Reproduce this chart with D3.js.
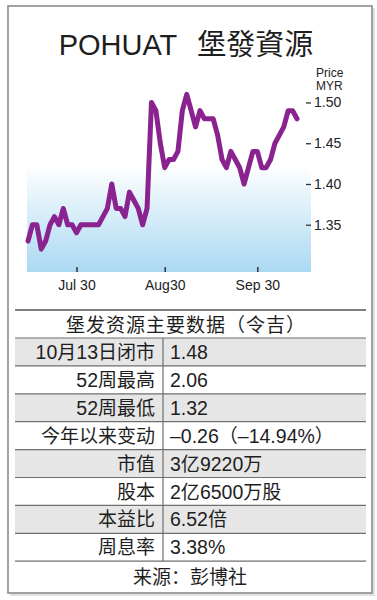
<!DOCTYPE html>
<html>
<head>
<meta charset="utf-8">
<script src="https://cdn.jsdelivr.net/npm/d3@7"></script>
<style>
  body { margin: 0; background: #fff; }
  svg text { font-family: "Liberation Sans", Arial, "Noto Sans CJK SC", sans-serif; }
</style>
</head>
<body>
<div id="chart"></div>
<script>
// trading days, Jul 14 - Oct 13
var dates = [
  "07-14","07-15","07-16","07-19","07-21","07-22","07-23","07-26","07-27","07-28","07-29","07-30",
  "08-02","08-03","08-04","08-05","08-06","08-09","08-11","08-12","08-13","08-16","08-17","08-18",
  "08-19","08-20","08-23","08-24","08-25","08-26","08-27","08-30",
  "09-01","09-02","09-03","09-06","09-07","09-08","09-09","09-10","09-13","09-14","09-15","09-17",
  "09-20","09-21","09-22","09-23","09-24","09-27","09-28","09-29","09-30",
  "10-01","10-04","10-05","10-06","10-07","10-08","10-11","10-12","10-13"
];
var prices = [
  1.33,1.35,1.35,1.32,1.33,1.35,1.36,1.35,1.37,1.35,1.35,1.34,
  1.35,1.35,1.35,1.35,1.35,1.36,1.37,1.40,1.37,1.37,1.36,1.39,1.38,1.37,1.35,1.37,1.50,1.49,1.45,1.42,
  1.43,1.43,1.44,1.49,1.51,1.49,1.47,1.49,1.48,1.48,1.48,1.46,1.43,1.42,1.44,1.43,1.42,1.40,1.42,1.44,1.44,
  1.42,1.42,1.43,1.45,1.46,1.47,1.49,1.49,1.48
];
var xTicks = ["07-30", "08-30", "09-30"];
var xTickLabels = ["Jul 30", "Aug30", "Sep 30"];
var yTicks = [1.35, 1.40, 1.45, 1.50];

var tableTitle = "堡发资源主要数据（令吉）";
var rowLabels = ["10月13日闭市", "52周最高", "52周最低", "今年以来变动", "市值", "股本", "本益比", "周息率"];
var rowValues = ["1.48", "2.06", "1.32", "–0.26（–14.94%）", "3亿9220万", "2亿6500万股", "6.52倍", "3.38%"];
var source = "来源：彭博社";

var W = 377, H = 600;
var svg = d3.select("#chart").append("svg")
    .attr("width", W)
    .attr("height", H);

// CJK runs and latin runs get their own size
function mixedText(sel) {
    sel.each(function(d) {
        var t = d3.select(this);
        var parts = d.split(/([\u3000-\u9fff\uff00-\uffef]+)/).filter(function(p) { return p.length; });
        parts.forEach(function(p) {
            var cjk = /[\u3000-\u9fff\uff00-\uffef]/.test(p);
            t.append("tspan")
                .attr("font-size", cjk ? 19 : 19.5)
                .text(p);
        });
    });
}

// frame with a faint shadow
svg.append("rect")
    .attr("x", 10).attr("y", 8).attr("width", 365).attr("height", 588)
    .attr("fill", "#e2e2e2");
svg.append("rect")
    .attr("x", 8).attr("y", 6).attr("width", 364).attr("height", 587)
    .attr("fill", "#fff").attr("stroke", "#8c8c8c").attr("stroke-width", 1.6);

// title
var title = svg.append("text")
    .attr("x", 186).attr("y", 55)
    .attr("text-anchor", "middle")
    .attr("font-size", 29)
    .attr("fill", "#1e1e1e");
title.append("tspan").text("POHUAT");
title.append("tspan").attr("dx", 20)
    .style("font-family", "'Noto Sans CJK TC', sans-serif")
    .text("堡發資源");

// chart
var plotLeft = 27, plotRight = 311, plotBottom = 272;
var x = d3.scalePoint()
    .domain(dates)
    .range([28, 297]);
var y = d3.scaleLinear()
    .domain([1.292, 1.52])
    .range([plotBottom, plotBottom - 0.228 * 815]);

var defs = svg.append("defs");
var grad = defs.append("linearGradient")
    .attr("id", "bg").attr("x1", 0).attr("y1", 0).attr("x2", 0).attr("y2", 1);
grad.append("stop").attr("offset", "0%").attr("stop-color", "#ffffff");
grad.append("stop").attr("offset", "42%").attr("stop-color", "#ffffff");
grad.append("stop").attr("offset", "100%").attr("stop-color", "#aad9f2");

svg.append("rect")
    .attr("x", plotLeft).attr("y", y(1.52))
    .attr("width", plotRight - plotLeft)
    .attr("height", plotBottom - y(1.52))
    .attr("fill", "url(#bg)");

// x axis (ticks point up into the plot)
var xAxis = svg.append("g")
    .attr("transform", "translate(0," + plotBottom + ")")
    .call(d3.axisBottom(x).tickValues(xTicks).tickSize(-5).tickPadding(10)
        .tickFormat(function(d, i) { return xTickLabels[i]; }));
xAxis.select(".domain").remove();
xAxis.selectAll("line").attr("stroke", "#333").attr("stroke-width", 1.5);
xAxis.selectAll("text")
    .attr("dy", "0.71em")
    .attr("y", 8)
    .style("font-size", "14px")
    .style("font-family", "'Liberation Sans', Arial, sans-serif")
    .attr("fill", "#222");

// y axis on the right
var yAxis = svg.append("g")
    .attr("transform", "translate(306,0)")
    .call(d3.axisRight(y).tickValues(yTicks).tickSize(5).tickPadding(3)
        .tickFormat(d3.format(".2f")));
yAxis.select(".domain").remove();
yAxis.selectAll("line").attr("stroke", "#333").attr("stroke-width", 1.3);
yAxis.selectAll("text")
    .style("font-size", "14px")
    .style("font-family", "'Liberation Sans', Arial, sans-serif")
    .attr("fill", "#222");

svg.append("text").attr("x", 316).attr("y", 77)
    .attr("font-size", 12).attr("fill", "#222").text("Price");
svg.append("text").attr("x", 316).attr("y", 90)
    .attr("font-size", 12).attr("fill", "#222").text("MYR");

// price line
var line = d3.line()
    .x(function(d, i) { return x(dates[i]); })
    .y(function(d) { return y(d); });
svg.append("path")
    .datum(prices)
    .attr("d", line)
    .attr("fill", "none")
    .attr("stroke", "#8a2290")
    .attr("stroke-width", 5)
    .attr("stroke-linejoin", "round")
    .attr("stroke-linecap", "round");

// table
var tLeft = 15, tRight = 366, tTop = 310, titleH = 28, rowH = 27.9, divX = 163;
var rowsTop = tTop + titleH;

svg.append("text")
    .attr("x", 186).attr("y", tTop + 22)
    .attr("text-anchor", "middle")
    .attr("font-size", 19)
    .attr("letter-spacing", 1)
    .attr("fill", "#1e1e1e")
    .text(tableTitle);

var rows = svg.append("g").selectAll("g")
    .data(rowLabels)
    .enter().append("g")
    .attr("transform", function(d, i) { return "translate(0," + (rowsTop + i * rowH) + ")"; });

rows.append("rect")
    .attr("x", tLeft).attr("width", tRight - tLeft).attr("height", rowH)
    .attr("fill", function(d, i) { return i % 2 === 0 ? "#e6e6e6" : "#fff"; });
rows.append("text")
    .attr("x", 155).attr("y", 21)
    .attr("text-anchor", "end")
    .attr("fill", "#1e1e1e")
    .call(mixedText);
rows.append("text")
    .datum(function(d, i) { return rowValues[i]; })
    .attr("x", 170).attr("y", 21)
    .attr("fill", "#1e1e1e")
    .call(mixedText);

// grid lines
var lineYs = d3.range(rowLabels.length + 1).map(function(i) { return rowsTop + i * rowH; });
svg.append("g").selectAll("line")
    .data(lineYs)
    .enter().append("line")
    .attr("x1", tLeft).attr("x2", tRight)
    .attr("y1", function(d) { return d; }).attr("y2", function(d) { return d; })
    .attr("stroke", "#6f6f6f").attr("stroke-width", 1.2);
svg.append("line")
    .attr("x1", tLeft).attr("x2", tRight).attr("y1", tTop).attr("y2", tTop)
    .attr("stroke", "#555").attr("stroke-width", 1.6);
svg.append("line")
    .attr("x1", divX).attr("x2", divX).attr("y1", rowsTop).attr("y2", lineYs[lineYs.length - 1])
    .attr("stroke", "#6f6f6f").attr("stroke-width", 1.2);

svg.append("text")
    .attr("x", 190).attr("y", 584)
    .attr("text-anchor", "middle")
    .attr("font-size", 19)
    .attr("fill", "#1e1e1e")
    .text(source);
</script>
</body>
</html>
